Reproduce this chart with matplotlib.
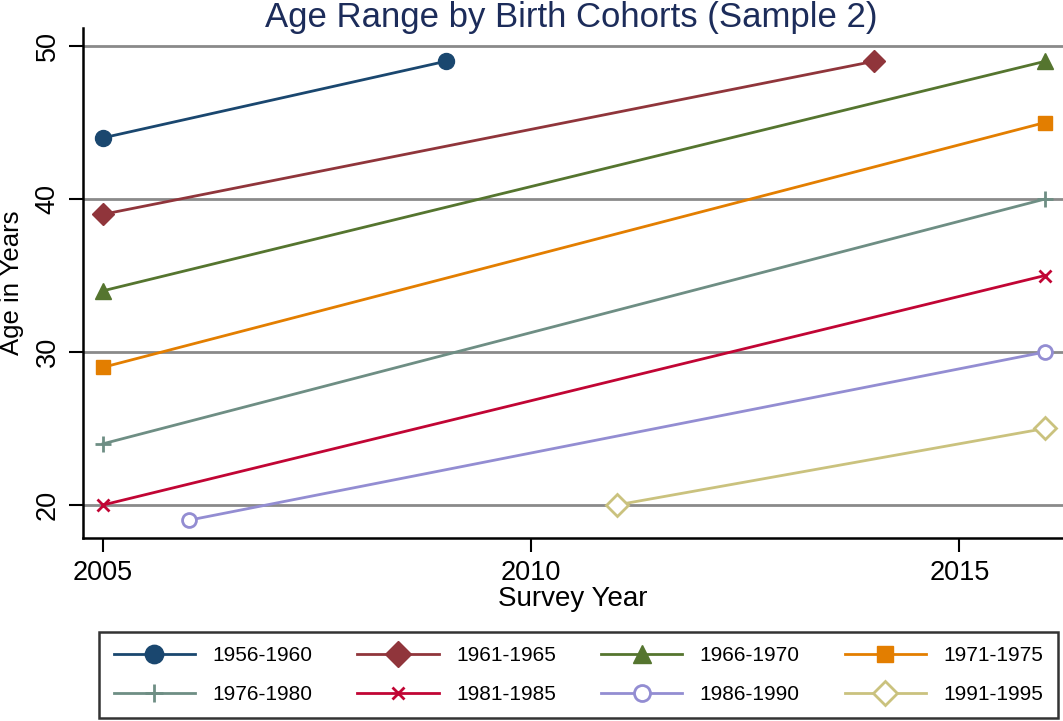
import matplotlib
matplotlib.use("Agg")
import matplotlib.pyplot as plt

plt.rcParams['font.family'] = ['Liberation Sans', 'DejaVu Sans']

cohorts = ["1956-1960", "1961-1965", "1966-1970", "1971-1975",
           "1976-1980", "1981-1985", "1986-1990", "1991-1995"]
years = [[2005, 2009], [2005, 2014], [2005, 2016], [2005, 2016],
         [2005, 2016], [2005, 2016], [2006, 2016], [2011, 2016]]
ages = [[44, 49], [39, 49], [34, 49], [29, 45],
        [24, 40], [20, 35], [19, 30], [20, 25]]
colors = ["#1a476f", "#90353b", "#55752f", "#e37e00",
          "#6e8e84", "#c10534", "#938dd2", "#cac27e"]
markers = ["o", "D", "^", "s", "+", "x", "o", "D"]
filled = [True, True, True, True, True, True, False, False]
msizes = [11.5, 11.5, 11.5, 10.5, 11, 8, 10, 11]
xticks = [2005, 2010, 2015]
yticks = [20, 30, 40, 50]

W, H = 1063, 721
fig = plt.figure(figsize=(W / 100, H / 100), dpi=100)
left, right, top, bottom = 83, 1063, 28, 538
ax = fig.add_axes([left / W, 1 - bottom / H, (right - left) / W, (bottom - top) / H])
ax.set_xlim(2004.766, 2016.21)
ax.set_ylim(17.84, 51.18)

for y in yticks:
    ax.axhline(y, color="#8a8a8a", lw=2.0, zorder=1)

for lab, xs, ys, c, m, f, ms in zip(cohorts, years, ages, colors, markers, filled, msizes):
    ax.plot(xs, ys, color=c, lw=2.0, marker=m, ms=ms,
            markerfacecolor=c if f else "white",
            markeredgecolor=c, markeredgewidth=2.0 if (not f or m in "+x") else 1.0,
            label=lab, zorder=3, clip_on=False)

for s in ["top", "right"]:
    ax.spines[s].set_visible(False)
for s in ["left", "bottom"]:
    ax.spines[s].set_linewidth(1.8)
    ax.spines[s].set_color("black")

ax.set_xticks(xticks)
ax.set_yticks(yticks)
ax.tick_params(axis="both", length=10, width=1.5, labelsize=19.5)
ax.tick_params(axis="x", pad=6)
ax.tick_params(axis="y", pad=6)
for t in ax.get_yticklabels():
    t.set_rotation(90)
    t.set_va("center")

ax.set_xlabel("Survey Year", fontsize=20, labelpad=0)
ax.set_ylabel("Age in Years", fontsize=18.5, labelpad=8)

fig.text(571 / W, 1 - 18 / H, "Age Range by Birth Cohorts (Sample 2)",
         ha="center", va="center", fontsize=25, color="#1c2c5a")

handles, labels = ax.get_legend_handles_labels()
order = [0, 4, 1, 5, 2, 6, 3, 7]
leg = fig.legend([handles[i] for i in order], [labels[i] for i in order],
                 loc="center", ncol=4,
                 bbox_to_anchor=((100 + 1057) / 2 / W, 1 - 675 / H),
                 fontsize=15, frameon=True, fancybox=False,
                 handlelength=3.9, handletextpad=0.85, columnspacing=2.15,
                 labelspacing=0.95, borderpad=0.7, markerscale=1.15)
leg.get_frame().set_edgecolor("black")
leg.get_frame().set_linewidth(1.8)

fig.savefig("out.png", dpi=100)
